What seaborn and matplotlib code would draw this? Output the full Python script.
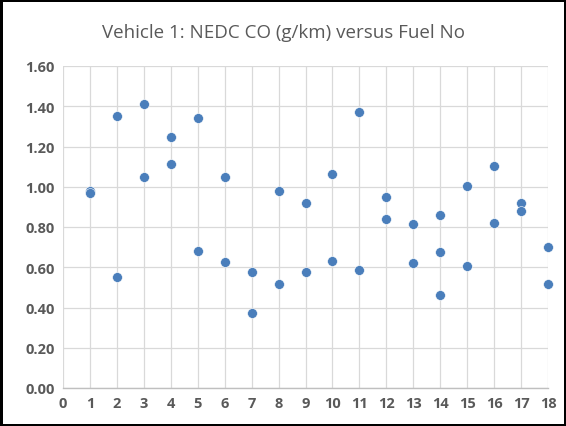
import numpy as np
import pandas as pd
import seaborn as sns
import matplotlib.pyplot as plt

# fuel number for each test and the measured NEDC CO (g/km)
fuel_no = [1, 1, 2, 2, 3, 3, 4, 4, 5, 5, 6, 6, 7, 7, 8, 8, 9, 9,
           10, 10, 11, 11, 12, 12, 13, 13, 14, 14, 14, 15, 15, 16, 16, 17, 17, 18, 18]
co_gkm = [0.98, 0.967, 1.353, 0.55, 1.411, 1.047, 1.249, 1.113, 1.34, 0.679, 1.05, 0.626,
          0.578, 0.374, 0.98, 0.517, 0.918, 0.578, 1.063, 0.631, 1.373, 0.585, 0.951, 0.838,
          0.817, 0.623, 0.858, 0.676, 0.461, 1.004, 0.608, 1.105, 0.82, 0.918, 0.88, 0.699, 0.518]
x_ticks = list(range(0, 19))
y_ticks = [0.0, 0.2, 0.4, 0.6, 0.8, 1.0, 1.2, 1.4, 1.6]

df = pd.DataFrame({"Fuel No": fuel_no, "CO": co_gkm})

sns.set_style("white")
plt.rcParams['font.family'] = ['Open Sans', 'DejaVu Sans']

fig = plt.figure(figsize=(5.66, 4.27), dpi=100, edgecolor='black', linewidth=2.5)
ax = fig.add_axes([63 / 566, 1 - 389 / 427, (548 - 63) / 566, (389 - 67) / 427])

sns.scatterplot(data=df, x="Fuel No", y="CO", ax=ax, color="#4a7ebb",
                s=50, edgecolor="white", linewidth=0.4, zorder=3, clip_on=False)

ax.set_xlim(0, 18)
ax.set_ylim(0, 1.6)
ax.set_xticks(x_ticks)
ax.set_yticks(y_ticks)
ax.set_yticklabels([f"{v:.2f}" for v in y_ticks])
ax.grid(True, color="#d9d9d9", linewidth=0.9)
ax.set_axisbelow(True)
for side in ["top", "right", "left"]:
    ax.spines[side].set_visible(False)
ax.spines["bottom"].set_color("#bfbfbf")
ax.spines["bottom"].set_linewidth(1.0)
ax.tick_params(axis='both', length=0, labelsize=10.5, labelcolor="#595959", pad=6)
for lab in ax.get_xticklabels() + ax.get_yticklabels():
    lab.set_fontweight("bold")
ax.set_xlabel("")
ax.set_ylabel("")

fig.text(0.5, 1 - 33 / 427, "Vehicle 1: NEDC CO (g/km) versus Fuel No",
         ha="center", va="center", fontsize=13.5, color="#595959")

fig.savefig("out.png", dpi=100)
